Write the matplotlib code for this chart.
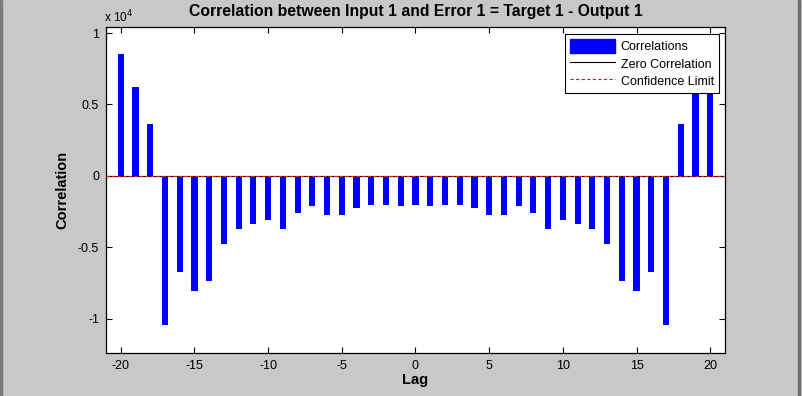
import numpy as np
import matplotlib
matplotlib.use('Agg')
import matplotlib.pyplot as plt
from matplotlib.lines import Line2D
from matplotlib.patches import Rectangle

# lag values and correlations (in units of 1e4)
lags = np.arange(-20, 21)
corr = [0.853, 0.620, 0.364, -1.042, -0.669, -0.802, -0.732, -0.473, -0.368, -0.334,
        -0.308, -0.368, -0.256, -0.207, -0.270, -0.270, -0.221, -0.200, -0.200, -0.207,
        -0.200,
        -0.207, -0.200, -0.200, -0.221, -0.270, -0.270, -0.207, -0.256, -0.368, -0.308,
        -0.334, -0.368, -0.473, -0.732, -0.802, -0.669, -1.042, 0.364, 0.620, 0.853]
conf_limit = 0.002  # tiny next to the 1e4 scale

plt.rcParams['font.family'] = ['Liberation Sans', 'DejaVu Sans']
plt.rcParams['axes.unicode_minus'] = False

fig = plt.figure(figsize=(8.03, 3.96), dpi=100, facecolor='#c8c8c8')
ax = fig.add_axes([106/803, 1-353/396, (725-106)/803, (353-27)/396])

ax.bar(lags, corr, width=0.42, color='#0000ff', edgecolor='none', zorder=2)
ax.axhline(0, color='black', lw=0.8, zorder=3)
ax.axhline(conf_limit, color='#d02020', lw=0.8, ls=(0, (3, 2)), zorder=4)
ax.axhline(-conf_limit, color='#d02020', lw=0.8, ls=(0, (3, 2)), zorder=4)

ax.set_xlim(-21, 21)
ax.set_ylim(-1.238, 1.042)
ax.set_xticks(np.arange(-20, 21, 5))
ax.set_yticks([-1, -0.5, 0, 0.5, 1])
ax.set_yticklabels(['-1', '-0.5', '0', '0.5', '1'])
ax.tick_params(direction='in', top=True, right=True, length=4, labelsize=9, pad=5)
for s in ax.spines.values():
    s.set_linewidth(0.9)

ax.set_title('Correlation between Input 1 and Error 1 = Target 1 - Output 1',
             fontsize=11.3, fontweight='bold', pad=8)
ax.set_xlabel('Lag', fontsize=10.5, fontweight='bold', labelpad=1)
ax.set_ylabel('Correlation', fontsize=10.5, fontweight='bold', labelpad=6)
fig.text(104/803, 1-17/396, 'x 10$^4$', fontsize=8.5, ha='left', va='center')

handles = [Rectangle((0, 0), 1, 1, color='#0000ff'),
           Line2D([], [], color='black', lw=0.8),
           Line2D([], [], color='#d02020', lw=0.8, ls=(0, (3, 2)))]
leg = ax.legend(handles, ['Correlations', 'Zero Correlation', 'Confidence Limit'],
                loc='upper right', bbox_to_anchor=(719/803, 1-34/396),
                bbox_transform=fig.transFigure, fontsize=9, fancybox=False,
                framealpha=1, edgecolor='black', borderpad=0.4, labelspacing=0.25,
                handlelength=3.6, handleheight=1.35, handletextpad=0.45, borderaxespad=0)
leg.get_frame().set_linewidth(0.8)

# window borders
fig.patches.append(Rectangle((0, 0), 2/803, 1, transform=fig.transFigure,
                             color='#7a7a80', zorder=0))
fig.patches.append(Rectangle((798/803, 0), 2/803, 1, transform=fig.transFigure,
                             color='#6a6a70', zorder=0))

fig.savefig('out.png', dpi=100, facecolor=fig.get_facecolor())
